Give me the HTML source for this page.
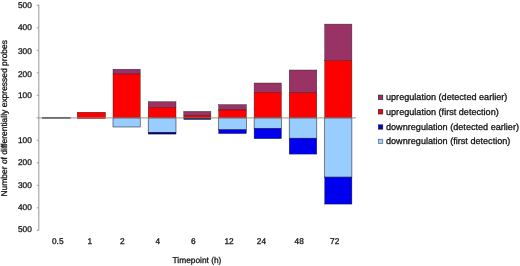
<!DOCTYPE html>
<html><head><meta charset="utf-8"><title>chart</title>
<style>
html,body{margin:0;padding:0;background:#fff;}
body{width:520px;height:266px;overflow:hidden;}
svg{display:block;will-change:transform;}
text{font-family:"Liberation Sans",sans-serif;fill:#111;stroke:#111;stroke-width:0.28px;text-rendering:geometricPrecision;}
.a{font-size:8.3px;}
.l{font-size:9.1px;}
</style></head><body>
<svg width="520" height="266" viewBox="0 0 520 266">
<rect width="520" height="266" fill="#ffffff"/>
<g stroke="#a0a0a0" stroke-width="1.1" fill="none">
<line x1="38.8" y1="4.8" x2="38.8" y2="230.4"/>
<line x1="36.7" y1="5.30" x2="38.8" y2="5.30"/>
<line x1="36.7" y1="27.80" x2="38.8" y2="27.80"/>
<line x1="36.7" y1="50.30" x2="38.8" y2="50.30"/>
<line x1="36.7" y1="72.80" x2="38.8" y2="72.80"/>
<line x1="36.7" y1="95.30" x2="38.8" y2="95.30"/>
<line x1="36.7" y1="117.80" x2="38.8" y2="117.80"/>
<line x1="36.7" y1="140.30" x2="38.8" y2="140.30"/>
<line x1="36.7" y1="162.80" x2="38.8" y2="162.80"/>
<line x1="36.7" y1="185.30" x2="38.8" y2="185.30"/>
<line x1="36.7" y1="207.80" x2="38.8" y2="207.80"/>
<line x1="36.7" y1="230.30" x2="38.8" y2="230.30"/>
</g>
<rect x="77.20" y="112.20" width="28.30" height="6.40" fill="#ff0000" stroke="#222" stroke-width="0.4"/>
<rect x="113.00" y="69.20" width="27.20" height="4.90" fill="#993366" stroke="#222" stroke-width="0.4"/>
<rect x="113.00" y="74.00" width="27.20" height="44.00" fill="#ff0000" stroke="#222" stroke-width="0.4"/>
<rect x="113.00" y="118.00" width="27.20" height="9.00" fill="#99ccff" stroke="#222" stroke-width="0.55"/>
<rect x="148.20" y="101.70" width="27.80" height="5.50" fill="#993366" stroke="#222" stroke-width="0.4"/>
<rect x="148.20" y="107.20" width="27.80" height="10.80" fill="#ff0000" stroke="#222" stroke-width="0.4"/>
<rect x="148.20" y="118.00" width="27.80" height="14.30" fill="#99ccff" stroke="#222" stroke-width="0.55"/>
<rect x="148.20" y="132.30" width="27.80" height="1.80" fill="#000088" stroke="#222" stroke-width="0.4"/>
<rect x="183.80" y="111.40" width="27.10" height="4.00" fill="#993366" stroke="#222" stroke-width="0.4"/>
<rect x="183.80" y="115.40" width="27.10" height="2.60" fill="#e80000" stroke="#222" stroke-width="0.4"/>
<rect x="183.80" y="118.00" width="27.10" height="1.50" fill="#000066" stroke="#222" stroke-width="0.4"/>
<rect x="218.70" y="104.60" width="27.70" height="5.40" fill="#993366" stroke="#222" stroke-width="0.4"/>
<rect x="218.70" y="110.00" width="27.70" height="8.00" fill="#ff0000" stroke="#222" stroke-width="0.4"/>
<rect x="218.70" y="118.00" width="27.70" height="11.80" fill="#99ccff" stroke="#222" stroke-width="0.55"/>
<rect x="218.70" y="129.80" width="27.70" height="3.80" fill="#0000ee" stroke="#222" stroke-width="0.4"/>
<rect x="254.10" y="83.00" width="27.30" height="9.20" fill="#993366" stroke="#222" stroke-width="0.4"/>
<rect x="254.10" y="92.20" width="27.30" height="25.80" fill="#ff0000" stroke="#222" stroke-width="0.4"/>
<rect x="254.10" y="118.00" width="27.30" height="10.40" fill="#99ccff" stroke="#222" stroke-width="0.55"/>
<rect x="254.10" y="128.40" width="27.30" height="10.30" fill="#0000ee" stroke="#222" stroke-width="0.4"/>
<rect x="289.20" y="70.00" width="27.60" height="22.70" fill="#993366" stroke="#222" stroke-width="0.4"/>
<rect x="289.20" y="92.70" width="27.60" height="25.30" fill="#ff0000" stroke="#222" stroke-width="0.4"/>
<rect x="289.20" y="118.00" width="27.60" height="20.20" fill="#99ccff" stroke="#222" stroke-width="0.55"/>
<rect x="289.20" y="138.20" width="27.60" height="15.90" fill="#0000ee" stroke="#222" stroke-width="0.4"/>
<rect x="324.70" y="24.10" width="27.20" height="36.30" fill="#993366" stroke="#222" stroke-width="0.4"/>
<rect x="324.70" y="60.40" width="27.20" height="57.60" fill="#ff0000" stroke="#222" stroke-width="0.4"/>
<rect x="324.70" y="118.00" width="27.20" height="59.10" fill="#99ccff" stroke="#222" stroke-width="0.55"/>
<rect x="324.70" y="177.10" width="27.20" height="27.00" fill="#0000ee" stroke="#222" stroke-width="0.4"/>
<line x1="38.6" y1="117.9" x2="356" y2="117.9" stroke="#908c88" stroke-width="0.9"/>
<line x1="42" y1="117.95" x2="70.6" y2="117.95" stroke="#2a2a2a" stroke-width="1.05"/>
<text class="a" x="31.8" y="7.90" text-anchor="end">500</text>
<text class="a" x="31.8" y="30.40" text-anchor="end">400</text>
<text class="a" x="31.8" y="54.30" text-anchor="end">300</text>
<text class="a" x="31.8" y="76.60" text-anchor="end">200</text>
<text class="a" x="31.8" y="98.30" text-anchor="end">100</text>
<text class="a" x="31.8" y="143.00" text-anchor="end">100</text>
<text class="a" x="31.8" y="165.10" text-anchor="end">200</text>
<text class="a" x="31.8" y="187.80" text-anchor="end">300</text>
<text class="a" x="31.8" y="210.20" text-anchor="end">400</text>
<text class="a" x="31.8" y="231.70" text-anchor="end">500</text>
<text class="a" x="57.75" y="244.2" text-anchor="middle">0.5</text>
<text class="a" x="89.9" y="244.2" text-anchor="middle">1</text>
<text class="a" x="122.4" y="244.2" text-anchor="middle">2</text>
<text class="a" x="157.7" y="244.2" text-anchor="middle">4</text>
<text class="a" x="193.2" y="244.2" text-anchor="middle">6</text>
<text class="a" x="229.05" y="244.2" text-anchor="middle">12</text>
<text class="a" x="261.4" y="244.2" text-anchor="middle">24</text>
<text class="a" x="299.2" y="244.2" text-anchor="middle">48</text>
<text class="a" x="334.7" y="244.2" text-anchor="middle">72</text>
<text class="a" x="172.6" y="263.1" style="font-size:8.34px">Timepoint (h)</text>
<text class="a" transform="translate(7.3,118.3) rotate(-90)" text-anchor="middle" style="font-size:8.48px">Number of differentially expressed probes</text>
<rect x="378.45" y="95.15" width="4.3" height="4.3" fill="#993366" stroke="#1a1a2a" stroke-width="0.7"/>
<text class="l" x="386" y="100.20">upregulation (detected earlier)</text>
<rect x="378.45" y="109.65" width="4.3" height="4.3" fill="#ff0000" stroke="#1a1a2a" stroke-width="0.7"/>
<text class="l" x="386" y="114.70">upregulation (first detection)</text>
<rect x="378.45" y="124.85" width="4.3" height="4.3" fill="#0000cc" stroke="#1a1a2a" stroke-width="0.7"/>
<text class="l" x="386" y="129.90">downregulation (detected earlier)</text>
<rect x="378.45" y="139.25" width="4.3" height="4.3" fill="#a8cef4" stroke="#4a6a90" stroke-width="0.7"/>
<text class="l" x="386" y="144.30">downregulation (first detection)</text>
</svg></body></html>
